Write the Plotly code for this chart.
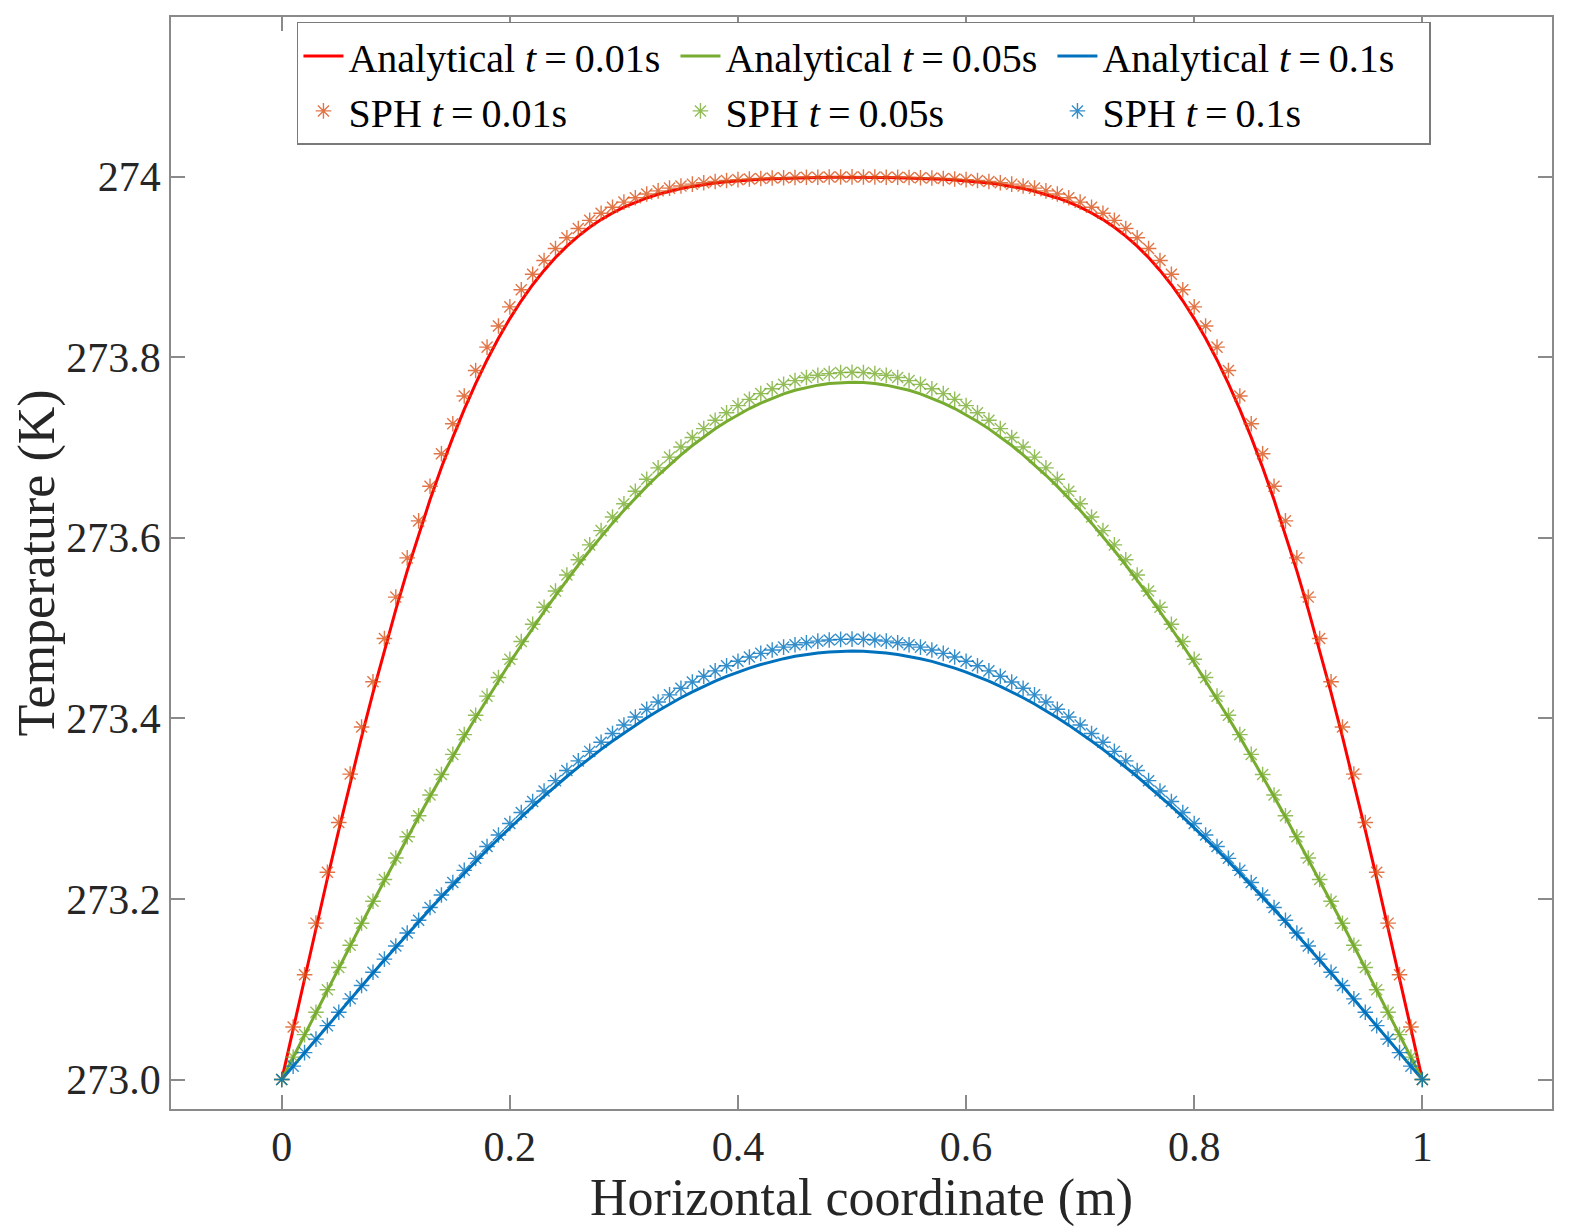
import plotly.graph_objects as go

x_pos = [0.00, 0.01, 0.02, 0.03, 0.04, 0.05, 0.06, 0.07, 0.08, 0.09,
         0.10, 0.11, 0.12, 0.13, 0.14, 0.15, 0.16, 0.17, 0.18, 0.19,
         0.20, 0.21, 0.22, 0.23, 0.24, 0.25, 0.26, 0.27, 0.28, 0.29,
         0.30, 0.31, 0.32, 0.33, 0.34, 0.35, 0.36, 0.37, 0.38, 0.39,
         0.40, 0.41, 0.42, 0.43, 0.44, 0.45, 0.46, 0.47, 0.48, 0.49,
         0.50, 0.51, 0.52, 0.53, 0.54, 0.55, 0.56, 0.57, 0.58, 0.59,
         0.60, 0.61, 0.62, 0.63, 0.64, 0.65, 0.66, 0.67, 0.68, 0.69,
         0.70, 0.71, 0.72, 0.73, 0.74, 0.75, 0.76, 0.77, 0.78, 0.79,
         0.80, 0.81, 0.82, 0.83, 0.84, 0.85, 0.86, 0.87, 0.88, 0.89,
         0.90, 0.91, 0.92, 0.93, 0.94, 0.95, 0.96, 0.97, 0.98, 0.99, 1.00]

analytical_001 = [
    273.0000, 273.0564, 273.1125, 273.1680, 273.2227, 273.2763, 273.3286, 273.3794, 273.4284, 273.4755,
    273.5205, 273.5633, 273.6039, 273.6420, 273.6778, 273.7112, 273.7421, 273.7707, 273.7969, 273.8209,
    273.8427, 273.8624, 273.8802, 273.8961, 273.9103, 273.9229, 273.9340, 273.9438, 273.9523, 273.9597,
    273.9661, 273.9716, 273.9763, 273.9804, 273.9838, 273.9867, 273.9891, 273.9911, 273.9928, 273.9942,
    273.9953, 273.9962, 273.9970, 273.9976, 273.9981, 273.9984, 273.9987, 273.9989, 273.9991, 273.9992,
    273.9992,
    273.9992, 273.9991, 273.9989, 273.9987, 273.9984, 273.9981, 273.9976, 273.9970, 273.9962, 273.9953,
    273.9942, 273.9928, 273.9911, 273.9891, 273.9867, 273.9838, 273.9804, 273.9763, 273.9716, 273.9661,
    273.9597, 273.9523, 273.9438, 273.9340, 273.9229, 273.9103, 273.8961, 273.8802, 273.8624, 273.8427,
    273.8209, 273.7969, 273.7707, 273.7421, 273.7112, 273.6778, 273.6420, 273.6039, 273.5633, 273.5205,
    273.4755, 273.4284, 273.3794, 273.3286, 273.2763, 273.2227, 273.1680, 273.1125, 273.0564, 273.0000]

analytical_005 = [
    273.0000, 273.0249, 273.0497, 273.0745, 273.0993, 273.1239, 273.1483, 273.1726, 273.1967, 273.2206,
    273.2442, 273.2676, 273.2907, 273.3134, 273.3358, 273.3578, 273.3795, 273.4007, 273.4215, 273.4418,
    273.4616, 273.4810, 273.4999, 273.5182, 273.5360, 273.5532, 273.5698, 273.5859, 273.6013, 273.6162,
    273.6304, 273.6440, 273.6569, 273.6692, 273.6808, 273.6918, 273.7021, 273.7117, 273.7206, 273.7288,
    273.7363, 273.7431, 273.7492, 273.7546, 273.7593, 273.7633, 273.7665, 273.7690, 273.7709, 273.7719,
    273.7723,
    273.7719, 273.7709, 273.7690, 273.7665, 273.7633, 273.7593, 273.7546, 273.7492, 273.7431, 273.7363,
    273.7288, 273.7206, 273.7117, 273.7021, 273.6918, 273.6808, 273.6692, 273.6569, 273.6440, 273.6304,
    273.6162, 273.6013, 273.5859, 273.5698, 273.5532, 273.5360, 273.5182, 273.4999, 273.4810, 273.4616,
    273.4418, 273.4215, 273.4007, 273.3795, 273.3578, 273.3358, 273.3134, 273.2907, 273.2676, 273.2442,
    273.2206, 273.1967, 273.1726, 273.1483, 273.1239, 273.0993, 273.0745, 273.0497, 273.0249, 273.0000]

analytical_01 = [
    273.0000, 273.0149, 273.0298, 273.0447, 273.0595, 273.0742, 273.0889, 273.1035, 273.1180, 273.1324,
    273.1466, 273.1607, 273.1747, 273.1885, 273.2021, 273.2154, 273.2286, 273.2416, 273.2543, 273.2667,
    273.2789, 273.2909, 273.3025, 273.3138, 273.3249, 273.3356, 273.3459, 273.3560, 273.3656, 273.3750,
    273.3839, 273.3925, 273.4007, 273.4085, 273.4159, 273.4228, 273.4294, 273.4355, 273.4412, 273.4465,
    273.4513, 273.4557, 273.4596, 273.4631, 273.4661, 273.4687, 273.4708, 273.4724, 273.4736, 273.4743,
    273.4745,
    273.4743, 273.4736, 273.4724, 273.4708, 273.4687, 273.4661, 273.4631, 273.4596, 273.4557, 273.4513,
    273.4465, 273.4412, 273.4355, 273.4294, 273.4228, 273.4159, 273.4085, 273.4007, 273.3925, 273.3839,
    273.3750, 273.3656, 273.3560, 273.3459, 273.3356, 273.3249, 273.3138, 273.3025, 273.2909, 273.2789,
    273.2667, 273.2543, 273.2416, 273.2286, 273.2154, 273.2021, 273.1885, 273.1747, 273.1607, 273.1466,
    273.1324, 273.1180, 273.1035, 273.0889, 273.0742, 273.0595, 273.0447, 273.0298, 273.0149, 273.0000]

sph_001 = [
    273.0000, 273.0582, 273.1160, 273.1732, 273.2295, 273.2846, 273.3383, 273.3904, 273.4405, 273.4885,
    273.5343, 273.5777, 273.6187, 273.6571, 273.6930, 273.7263, 273.7570, 273.7853, 273.8111, 273.8345,
    273.8557, 273.8747, 273.8918, 273.9070, 273.9204, 273.9322, 273.9425, 273.9515, 273.9593, 273.9660,
    273.9717, 273.9766, 273.9807, 273.9842, 273.9872, 273.9896, 273.9916, 273.9932, 273.9946, 273.9957,
    273.9966, 273.9973, 273.9979, 273.9984, 273.9987, 273.9990, 273.9992, 273.9993, 273.9995, 273.9995,
    273.9996,
    273.9995, 273.9995, 273.9993, 273.9992, 273.9990, 273.9987, 273.9984, 273.9979, 273.9973, 273.9966,
    273.9957, 273.9946, 273.9932, 273.9916, 273.9896, 273.9872, 273.9842, 273.9807, 273.9766, 273.9717,
    273.9660, 273.9593, 273.9515, 273.9425, 273.9322, 273.9204, 273.9070, 273.8918, 273.8747, 273.8557,
    273.8345, 273.8111, 273.7853, 273.7570, 273.7263, 273.6930, 273.6571, 273.6187, 273.5777, 273.5343,
    273.4885, 273.4405, 273.3904, 273.3383, 273.2846, 273.2295, 273.1732, 273.1160, 273.0582, 273.0000]

sph_005 = [
    273.0000, 273.0249, 273.0498, 273.0746, 273.0994, 273.1241, 273.1487, 273.1731, 273.1974, 273.2215,
    273.2453, 273.2689, 273.2922, 273.3151, 273.3378, 273.3601, 273.3820, 273.4035, 273.4246, 273.4453,
    273.4654, 273.4851, 273.5043, 273.5230, 273.5411, 273.5587, 273.5757, 273.5921, 273.6079, 273.6230,
    273.6376, 273.6515, 273.6648, 273.6774, 273.6893, 273.7005, 273.7111, 273.7209, 273.7301, 273.7385,
    273.7463, 273.7533, 273.7596, 273.7651, 273.7699, 273.7740, 273.7774, 273.7799, 273.7818, 273.7829,
    273.7833,
    273.7829, 273.7818, 273.7799, 273.7774, 273.7740, 273.7699, 273.7651, 273.7596, 273.7533, 273.7463,
    273.7385, 273.7301, 273.7209, 273.7111, 273.7005, 273.6893, 273.6774, 273.6648, 273.6515, 273.6376,
    273.6230, 273.6079, 273.5921, 273.5757, 273.5587, 273.5411, 273.5230, 273.5043, 273.4851, 273.4654,
    273.4453, 273.4246, 273.4035, 273.3820, 273.3601, 273.3378, 273.3151, 273.2922, 273.2689, 273.2453,
    273.2215, 273.1974, 273.1731, 273.1487, 273.1241, 273.0994, 273.0746, 273.0498, 273.0249, 273.0000]

sph_01 = [
    273.0000, 273.0149, 273.0298, 273.0448, 273.0597, 273.0746, 273.0894, 273.1042, 273.1188, 273.1334,
    273.1479, 273.1623, 273.1765, 273.1905, 273.2044, 273.2182, 273.2317, 273.2450, 273.2581, 273.2709,
    273.2835, 273.2958, 273.3079, 273.3196, 273.3310, 273.3422, 273.3529, 273.3634, 273.3735, 273.3832,
    273.3926, 273.4015, 273.4101, 273.4182, 273.4260, 273.4333, 273.4402, 273.4466, 273.4526, 273.4582,
    273.4633, 273.4679, 273.4720, 273.4757, 273.4789, 273.4816, 273.4838, 273.4855, 273.4868, 273.4875,
    273.4878,
    273.4875, 273.4868, 273.4855, 273.4838, 273.4816, 273.4789, 273.4757, 273.4720, 273.4679, 273.4633,
    273.4582, 273.4526, 273.4466, 273.4402, 273.4333, 273.4260, 273.4182, 273.4101, 273.4015, 273.3926,
    273.3832, 273.3735, 273.3634, 273.3529, 273.3422, 273.3310, 273.3196, 273.3079, 273.2958, 273.2835,
    273.2709, 273.2581, 273.2450, 273.2317, 273.2182, 273.2044, 273.1905, 273.1765, 273.1623, 273.1479,
    273.1334, 273.1188, 273.1042, 273.0894, 273.0746, 273.0597, 273.0448, 273.0298, 273.0149, 273.0000]

for arr in (analytical_001, analytical_005, analytical_01, sph_001, sph_005, sph_01):
    assert len(arr) == len(x_pos), len(arr)

x_tickvals = [0, 0.2, 0.4, 0.6, 0.8, 1.0]
x_ticktext = ["0", "0.2", "0.4", "0.6", "0.8", "1"]
y_tickvals = [273.0, 273.2, 273.4, 273.6, 273.8, 274.0]
y_ticktext = ["273.0", "273.2", "273.4", "273.6", "273.8", "274"]

FONT = "Liberation Serif"
TXT = "#262626"
AX = "#8a8a8a"
EQ = "\u2009=\u2009"

fig = go.Figure()

lines = [
    (analytical_001, "#FF0000", "Analytical <i>t</i>" + EQ + "0.01s"),
    (analytical_005, "#77AC30", "Analytical <i>t</i>" + EQ + "0.05s"),
    (analytical_01, "#0072BD", "Analytical <i>t</i>" + EQ + "0.1s"),
]
for ys, col, name in lines:
    fig.add_trace(go.Scatter(x=x_pos, y=ys, mode="lines", name=name,
                             line=dict(color=col, width=3)))

pts = [
    (sph_001, "rgba(217,83,25,0.8)", "SPH <i>t</i>" + EQ + "0.01s"),
    (sph_005, "rgba(119,172,48,0.8)", "SPH <i>t</i>" + EQ + "0.05s"),
    (sph_01, "rgba(0,114,189,0.8)", "SPH <i>t</i>" + EQ + "0.1s"),
]
for ys, col, name in pts:
    fig.add_trace(go.Scatter(x=x_pos, y=ys, mode="markers", name=name,
                             marker=dict(symbol="asterisk-open", size=13,
                                         color=col, line=dict(color=col, width=1.4))))

fig.update_layout(
    width=1570, height=1219,
    paper_bgcolor="white", plot_bgcolor="white",
    margin=dict(l=163, r=26, t=7, b=118),
    font=dict(family=FONT, color=TXT, size=40),
    showlegend=True,
    legend=dict(
        orientation="h", x=0.0912, y=0.9955, xanchor="left", yanchor="top",
        bgcolor="white", bordercolor="#7a7a7a", borderwidth=1.5,
        font=dict(family=FONT, size=40, color="black"),
        itemwidth=40, entrywidth=322, tracegroupgap=0,
    ),
    xaxis=dict(
        range=[-0.0971, 1.1137], tickvals=x_tickvals, ticktext=x_ticktext,
        showline=True, linecolor=AX, linewidth=1.5, mirror="allticks",
        ticks="inside", ticklen=14, tickcolor=AX, tickwidth=1.5,
        showgrid=False, zeroline=False,
        tickfont=dict(family=FONT, size=42, color=TXT),
        title=dict(text="Horizontal coordinate (m)", font=dict(family=FONT, size=52, color=TXT), standoff=4),
    ),
    yaxis=dict(
        range=[272.9674, 274.1767], tickvals=y_tickvals, ticktext=y_ticktext,
        showline=True, linecolor=AX, linewidth=1.5, mirror="allticks",
        ticks="inside", ticklen=14, tickcolor=AX, tickwidth=1.5,
        showgrid=False, zeroline=False,
        tickfont=dict(family=FONT, size=42, color=TXT),
        title=dict(text="Temperature (K)", font=dict(family=FONT, size=52, color=TXT), standoff=8),
    ),
)

fig.write_html("out.html")
